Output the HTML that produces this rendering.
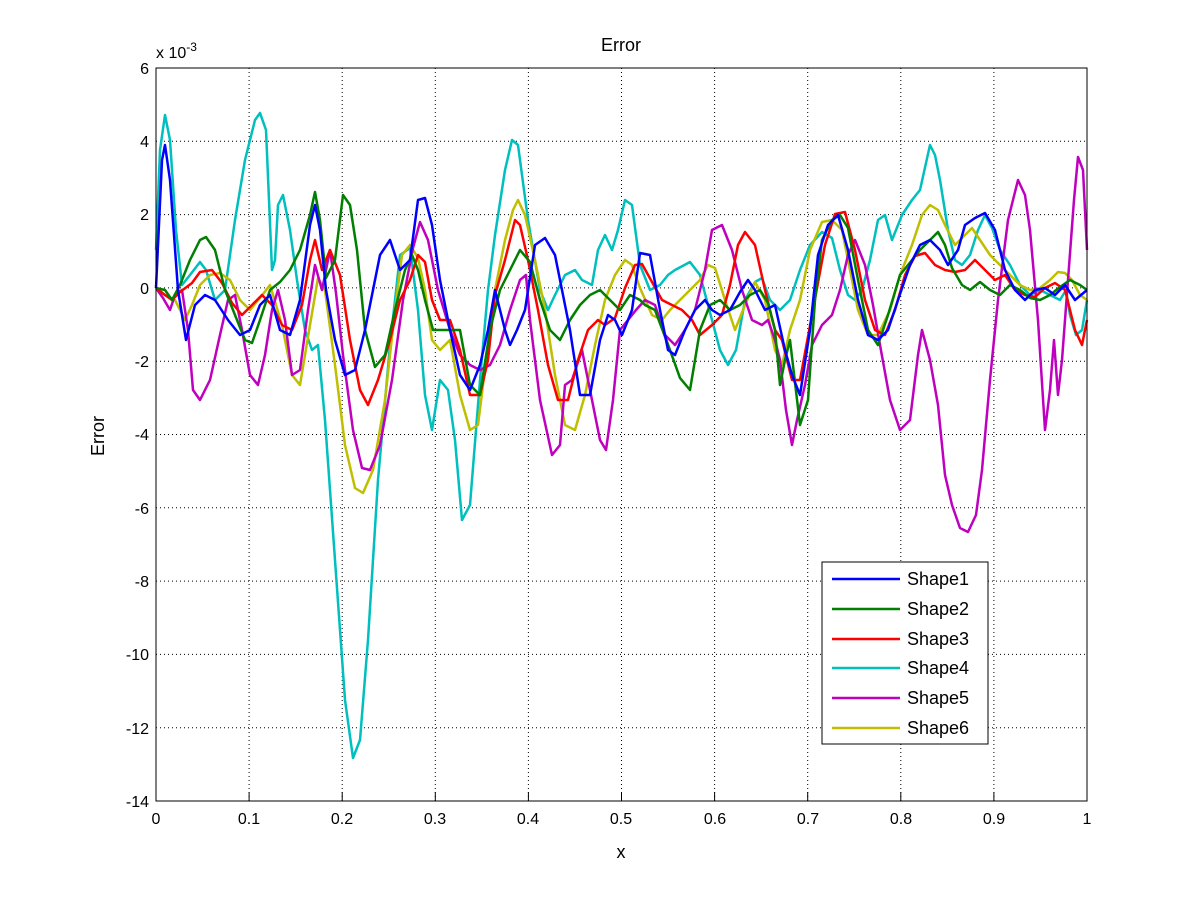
<!DOCTYPE html>
<html><head><style>body{margin:0;background:#fff}svg{display:block}text{font-family:"Liberation Sans",sans-serif}</style></head><body>
<svg width="1201" height="901" viewBox="0 0 1201 901" xmlns="http://www.w3.org/2000/svg">
<rect width="1201" height="901" fill="#fff"/>
<g stroke="#000" stroke-width="1" stroke-dasharray="1,3" fill="none">
<line x1="249.1" y1="68" x2="249.1" y2="801"/><line x1="342.2" y1="68" x2="342.2" y2="801"/><line x1="435.3" y1="68" x2="435.3" y2="801"/><line x1="528.4" y1="68" x2="528.4" y2="801"/><line x1="621.5" y1="68" x2="621.5" y2="801"/><line x1="714.6" y1="68" x2="714.6" y2="801"/><line x1="807.7" y1="68" x2="807.7" y2="801"/><line x1="900.8" y1="68" x2="900.8" y2="801"/><line x1="993.9" y1="68" x2="993.9" y2="801"/>
<line x1="156" y1="141.3" x2="1087" y2="141.3"/><line x1="156" y1="214.6" x2="1087" y2="214.6"/><line x1="156" y1="287.9" x2="1087" y2="287.9"/><line x1="156" y1="361.2" x2="1087" y2="361.2"/><line x1="156" y1="434.5" x2="1087" y2="434.5"/><line x1="156" y1="507.8" x2="1087" y2="507.8"/><line x1="156" y1="581.1" x2="1087" y2="581.1"/><line x1="156" y1="654.4" x2="1087" y2="654.4"/><line x1="156" y1="727.7" x2="1087" y2="727.7"/>
</g>
<g fill="none" stroke-width="2.5" stroke-linejoin="round">
<polyline stroke="#00bfbf" points="156,250 160,150 165,115 170,140 176,230 182,285 190,275 200,262 206,270 215,300 225,290 235,220 245,160 255,120 260,113 266,130 272,270 275,260 278,205 283,195 290,230 297,280 305,330 312,350 318,345 325,420 335,560 345,700 353,758 360,740 368,640 378,480 390,345 400,255 410,248 418,310 425,395 432,430 440,380 448,390 455,440 462,520 470,505 480,380 488,290 495,235 505,170 512,140 518,145 528,220 540,290 548,310 555,295 565,275 575,270 582,280 592,285 598,250 605,235 612,250 618,230 625,200 632,205 640,265 650,290 660,285 668,275 675,270 690,262 700,275 712,320 720,350 728,365 736,350 745,300 755,282 762,278 770,300 780,310 790,300 800,270 810,245 822,232 832,238 840,270 848,295 855,300 862,290 870,260 878,220 885,215 892,240 902,215 912,200 920,190 930,145 935,155 940,180 948,230 955,260 962,265 970,255 978,230 985,215 992,228 1000,250 1010,265 1020,285 1030,295 1040,290 1050,295 1060,300 1066,290 1070,315 1076,335 1082,330 1087,300"/>
<polyline stroke="#bfbf00" points="156,288 165,295 175,300 185,320 192,305 200,285 210,275 220,273 230,280 240,300 250,310 260,298 270,285 282,325 292,375 300,385 310,325 318,278 325,290 335,365 345,445 355,488 363,493 373,470 385,400 395,310 402,255 410,245 418,258 425,290 432,340 440,350 450,340 460,395 470,430 478,425 488,345 495,290 505,240 513,210 518,200 525,215 535,260 545,310 555,375 565,425 575,430 585,395 595,345 605,300 615,275 625,260 632,265 640,288 652,315 662,320 670,310 680,300 690,290 700,280 708,265 715,268 725,300 735,330 745,305 755,282 765,300 775,350 782,365 790,330 800,300 810,250 822,222 832,220 842,230 850,270 858,310 868,335 878,335 890,310 900,275 912,245 922,215 930,205 938,210 945,225 955,245 965,235 972,228 980,240 990,255 1000,265 1010,275 1020,285 1030,290 1040,288 1050,280 1058,272 1065,273 1072,280 1080,295 1087,300"/>
<polyline stroke="#bf00bf" points="156,288 163,298 170,310 175,295 182,290 188,330 193,390 200,400 210,380 220,335 228,300 235,295 242,330 250,375 258,385 265,355 272,310 278,290 285,320 292,375 300,370 308,310 315,265 322,290 330,250 336,293 343,355 353,430 362,468 370,470 380,445 392,380 403,300 413,248 420,222 428,240 438,290 450,330 460,355 470,365 480,370 490,365 500,345 510,310 520,280 526,275 530,320 540,400 552,455 560,445 565,385 572,380 582,350 590,390 600,440 606,450 613,400 620,330 628,320 636,310 645,300 655,305 665,335 675,345 685,330 695,310 705,270 712,230 722,225 732,250 742,290 752,320 762,325 768,320 775,340 780,360 786,410 792,445 797,420 805,385 812,345 822,325 832,315 840,290 848,255 855,240 865,265 873,305 880,345 890,400 900,430 910,420 918,355 922,330 930,360 938,405 945,475 952,505 960,528 968,532 976,515 982,470 990,380 998,300 1008,220 1018,180 1025,195 1030,230 1038,320 1045,430 1050,390 1054,340 1058,395 1062,360 1068,280 1074,200 1078,157 1083,170 1087,250"/>
<polyline stroke="#ff0000" points="156,288 165,295 172,300 180,292 192,283 200,272 212,270 222,283 232,303 242,315 252,305 262,295 272,305 282,325 292,330 302,305 310,260 315,240 322,270 330,250 340,275 350,340 360,390 368,405 378,380 390,340 400,300 410,280 418,255 425,262 432,300 440,320 450,320 460,350 470,395 480,395 488,360 495,295 505,260 515,220 520,225 528,260 538,310 548,365 558,400 568,400 578,360 588,330 598,320 605,325 615,318 625,288 635,265 642,264 652,282 662,300 672,305 682,310 692,320 700,335 712,325 722,315 730,285 738,245 745,232 755,245 765,290 775,330 782,340 792,380 800,380 812,315 825,245 835,214 845,212 855,250 865,300 875,330 885,335 895,310 905,275 915,256 925,253 935,265 945,270 955,272 965,270 975,260 985,270 995,280 1005,275 1015,290 1025,295 1035,297 1045,288 1055,283 1065,290 1075,330 1082,345 1087,320"/>
<polyline stroke="#007f00" points="156,288 165,290 172,300 180,285 190,260 200,240 206,237 215,250 225,290 235,315 245,340 252,343 260,320 270,290 280,282 290,270 300,250 310,215 315,192 320,220 326,278 335,260 343,195 350,205 357,250 365,330 375,367 385,355 395,310 405,270 412,255 418,270 425,300 433,330 440,330 450,330 460,330 470,385 480,395 490,330 500,290 510,270 520,250 530,262 540,300 550,330 560,340 570,320 580,305 590,295 600,290 610,300 620,310 630,295 640,300 645,305 655,310 670,350 680,378 690,390 700,330 710,305 720,300 730,310 740,305 750,295 760,290 768,303 775,330 780,385 785,360 790,340 800,425 808,400 815,300 822,240 832,220 840,215 848,228 858,280 868,330 878,345 888,315 900,275 912,260 920,250 930,240 938,232 945,245 952,268 962,285 970,290 980,282 990,290 1000,295 1010,285 1020,290 1030,298 1040,300 1050,295 1060,287 1070,280 1080,285 1087,290"/>
<polyline stroke="#0000ff" points="156,288 162,160 165,145 170,180 178,290 186,340 195,305 205,295 215,300 228,320 240,335 250,330 260,305 270,295 280,330 290,335 300,300 310,225 315,205 320,230 326,290 335,340 345,375 355,370 365,330 380,255 390,240 400,270 410,260 418,200 425,198 432,225 440,280 450,330 460,375 470,390 480,365 488,330 495,290 505,330 510,345 517,330 525,310 535,245 545,238 555,255 562,290 570,330 580,395 590,395 600,340 608,315 615,320 622,335 632,310 640,253 650,255 660,310 668,350 675,355 685,330 695,310 705,300 712,310 720,315 730,310 740,292 748,280 755,290 765,310 775,305 785,350 792,375 800,395 810,330 818,255 828,225 838,215 848,250 858,300 868,335 878,340 888,330 898,300 910,265 920,245 930,240 940,250 948,265 958,250 965,225 975,218 985,213 995,230 1005,270 1015,290 1025,300 1035,290 1045,288 1055,295 1065,285 1075,300 1087,290"/>
</g>
<rect x="156" y="68" width="931" height="733" fill="none" stroke="#000" stroke-width="1"/>
<g stroke="#000" stroke-width="1">
<line x1="249.1" y1="801" x2="249.1" y2="792"/><line x1="342.2" y1="801" x2="342.2" y2="792"/><line x1="435.3" y1="801" x2="435.3" y2="792"/><line x1="528.4" y1="801" x2="528.4" y2="792"/><line x1="621.5" y1="801" x2="621.5" y2="792"/><line x1="714.6" y1="801" x2="714.6" y2="792"/><line x1="807.7" y1="801" x2="807.7" y2="792"/><line x1="900.8" y1="801" x2="900.8" y2="792"/><line x1="993.9" y1="801" x2="993.9" y2="792"/>
</g>
<g font-size="16" text-anchor="middle" fill="#000">
<text x="156" y="824">0</text><text x="249" y="824">0.1</text><text x="342" y="824">0.2</text><text x="435" y="824">0.3</text><text x="528" y="824">0.4</text><text x="621" y="824">0.5</text><text x="715" y="824">0.6</text><text x="808" y="824">0.7</text><text x="901" y="824">0.8</text><text x="994" y="824">0.9</text><text x="1087" y="824">1</text>
<text x="621" y="858" font-size="18">x</text>
<text x="621" y="51" font-size="18">Error</text>
</g>
<g font-size="16" text-anchor="end" fill="#000">
<text x="149" y="74">6</text><text x="149" y="147">4</text><text x="149" y="220">2</text><text x="149" y="294">0</text><text x="149" y="367">-2</text><text x="149" y="440">-4</text><text x="149" y="514">-6</text><text x="149" y="587">-8</text><text x="149" y="660">-10</text><text x="149" y="734">-12</text><text x="149" y="807">-14</text>
</g>
<text x="156" y="58" font-size="16">x 10<tspan dy="-7" font-size="12">-3</tspan></text>
<text transform="translate(104,436) rotate(-90)" font-size="18" text-anchor="middle">Error</text>
<rect x="822" y="562" width="166" height="182" fill="#fff" stroke="#000"/>
<g stroke-width="2.5">
<line x1="832" y1="579" x2="900" y2="579" stroke="#0000ff"/>
<line x1="832" y1="609" x2="900" y2="609" stroke="#007f00"/>
<line x1="832" y1="639" x2="900" y2="639" stroke="#ff0000"/>
<line x1="832" y1="668" x2="900" y2="668" stroke="#00bfbf"/>
<line x1="832" y1="698" x2="900" y2="698" stroke="#bf00bf"/>
<line x1="832" y1="728" x2="900" y2="728" stroke="#bfbf00"/>
</g>
<g font-size="18" fill="#000">
<text x="907" y="585">Shape1</text><text x="907" y="615">Shape2</text><text x="907" y="645">Shape3</text><text x="907" y="674">Shape4</text><text x="907" y="704">Shape5</text><text x="907" y="734">Shape6</text>
</g>
</svg>
</body></html>
